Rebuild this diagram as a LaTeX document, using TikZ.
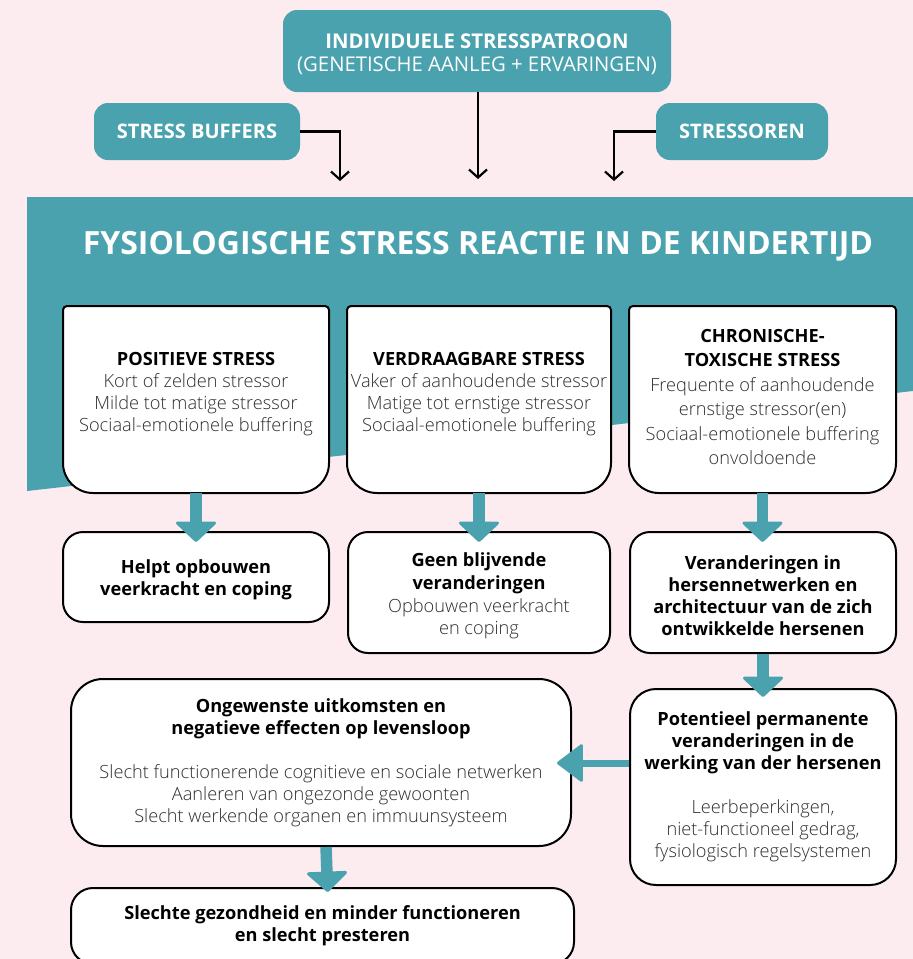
\documentclass[tikz,border=0pt]{standalone}
\usepackage{fontspec}
\setmainfont{Open Sans}
\newfontfamily\lightfont{Open Sans Light}
\usetikzlibrary{arrows.meta,calc}
\definecolor{pinkbg}{HTML}{FCECF0}
\definecolor{tealc}{HTML}{4BA2AF}
\definecolor{bodytext}{HTML}{2E2E2E}
\newcommand\regtext[1]{{\lightfont\color{bodytext}#1}}
\newcommand\hd[1]{{\bfseries #1}}
% box with slightly rounded top corners and wide rounded bottom corners
\newcommand\cupshape[4]{%
  \draw[outline] (#1,#2+4) .. controls (#1,#2+1.8) and (#1+1.8,#2) .. (#1+4,#2)
    -- (#3-4,#2) .. controls (#3-1.8,#2) and (#3,#2+1.8) .. (#3,#2+4)
    -- (#3,#4-30) .. controls (#3,#4-13.4) and (#3-13.4,#4) .. (#3-30,#4)
    -- (#1+30,#4) .. controls (#1+13.4,#4) and (#1,#4-13.4) .. (#1,#4-30) -- cycle;}
\begin{document}
\begin{tikzpicture}[x=1pt,y=-1pt,
  tealbox/.style={fill=tealc, rounded corners=14pt, text=white, align=center, inner sep=0pt},
  outline/.style={draw=black, line width=2pt, fill=white},
  whitebox/.style={outline, rounded corners=#1, align=center, inner sep=0pt, text=black,
    font=\fontsize{18.2}{22}\selectfont},
  whitebox/.default=20pt,
  holder/.style={inner sep=0pt, outer sep=0pt},
  bodyfont/.style={align=center, text=black, font=\fontsize{18.2}{22}\selectfont},
  tealarrow/.style={draw=tealc, line width=11.5pt,
    -{Triangle[width=44pt,length=21pt,line width=3pt,round]}},
  thinarrow/.style={draw=tealc, line width=7pt,
    -{Triangle[width=40pt,length=27pt,line width=3pt,round]}},
  blackarrow/.style={draw=black, line width=2.2pt, -{Straight Barb[length=8pt,width=18pt]}}
]
\useasboundingbox (0,0) rectangle (913,959);
\fill[pinkbg] (0,0) rectangle (913,959);

% banner
\fill[tealc] (27,197) -- (913,197) -- (913,391) -- (27,491) -- cycle;
\node[text=white, font=\bfseries\fontsize{32}{36}\selectfont, anchor=base] (title) at (478,254)
  {FYSIOLOGISCHE STRESS REACTIE IN DE KINDERTIJD};

% top row
\node[tealbox, minimum width=388pt, minimum height=82pt] (ip) at (477,51) {};
\node[text=white, align=center, font=\fontsize{20.3}{23}\selectfont] (iptext) at (477,54.5)
  {\textbf{INDIVIDUELE STRESSPATROON}\\(GENETISCHE AANLEG + ERVARINGEN)};
\node[tealbox, minimum width=206pt, minimum height=57pt, font=\bfseries\fontsize{20}{22}\selectfont] (sb) at (197,131.5) {STRESS BUFFERS};
\node[tealbox, minimum width=172pt, minimum height=57pt, font=\bfseries\fontsize{20}{22}\selectfont] (so) at (742,131.5) {STRESSOREN};

\coordinate (ea) at (340,181);
\coordinate (eb) at (478,179);
\coordinate (ec) at (614,181);
\draw[blackarrow] (sb.east) -| (ea);
\draw[blackarrow] (ip.south -| eb) -- (eb);
\draw[blackarrow] (so.west) -| (ec);

% stress types
\node[holder, minimum width=266pt, minimum height=187pt] (b1) at (196,399.5) {};
\node[holder, minimum width=264pt, minimum height=187pt] (b2) at (479,399.5) {};
\node[holder, minimum width=267pt, minimum height=187pt] (b3) at (762.5,399.5) {};
\cupshape{63}{306}{329}{493}
\cupshape{347}{306}{611}{493}
\cupshape{629}{306}{896}{493}
\node[bodyfont] (t1) at (196,394)
  {\hd{POSITIEVE STRESS}\\\regtext{Kort of zelden stressor}\\\regtext{Milde tot matige stressor}\\\regtext{Sociaal-emotionele buffering}};
\node[bodyfont] (t2) at (479,394.5)
  {\hd{VERDRAAGBARE STRESS}\\\regtext{Vaker of aanhoudende stressor}\\\regtext{Matige tot ernstige stressor}\\\regtext{Sociaal-emotionele buffering}};
\node[bodyfont, font=\fontsize{18.2}{24.4}\selectfont] (t3) at (762.5,397)
  {\hd{CHRONISCHE-}\\\hd{TOXISCHE STRESS}\\\regtext{Frequente of aanhoudende}\\\regtext{ernstige stressor(en)}\\\regtext{Sociaal-emotionele buffering}\\\regtext{onvoldoende}};

% outcomes
\node[whitebox, minimum width=266pt, minimum height=90pt] (b4) at (196,577) {};
\node[bodyfont] (t4) at (196,580)
  {\hd{Helpt opbouwen}\\\hd{veerkracht en coping}};
\node[whitebox, minimum width=262pt, minimum height=121pt] (b5) at (479,592.5) {};
\node[bodyfont, font=\fontsize{18.2}{22.6}\selectfont] (t5) at (479,596)
  {\hd{Geen blijvende}\\\hd{veranderingen}\\\regtext{Opbouwen veerkracht}\\\regtext{en coping}};
\node[whitebox, minimum width=266pt, minimum height=121pt] (b6) at (763,592.5) {};
\node[bodyfont] (t6) at (763,596)
  {\hd{Veranderingen in}\\\hd{hersennetwerken en}\\\hd{architectuur van de zich}\\\hd{ontwikkelde hersenen}};
\node[whitebox=26pt, minimum width=266pt, minimum height=196pt] (b7) at (763,787)
  {\hd{Potentieel permanente}\\\hd{veranderingen in de}\\\hd{werking van der hersenen}\\[22pt]\regtext{Leerbeperkingen,}\\\regtext{niet-functioneel gedrag,}\\\regtext{fysiologisch regelsystemen}};
\node[whitebox=32pt, minimum width=500pt, minimum height=167pt] (b8) at (321,762.5)
  {\hd{Ongewenste uitkomsten en}\\\hd{negatieve effecten op levensloop}\\[22pt]\regtext{Slecht functionerende cognitieve en sociale netwerken}\\\regtext{Aanleren van ongezonde gewoonten}\\\regtext{Slecht werkende organen en immuunsysteem}};
\node[whitebox=22pt, minimum width=503pt, minimum height=76pt] (b9) at (322.5,926)
  {\hd{Slechte gezondheid en minder functioneren}\\\hd{en slecht presteren}};

% connecting arrows
\draw[tealarrow, shorten >=-11pt] (b1.south) -- (b1.south |- b4.north);
\draw[tealarrow, shorten >=-11pt] (b2.south) -- (b2.south |- b5.north);
\draw[tealarrow, shorten >=-11pt] (b3.south) -- (b3.south |- b6.north);
\draw[tealarrow, shorten >=-9pt] (b6.south) -- (b6.south |- b7.north);
\draw[thinarrow, shorten >=-15pt] (b7.west |- 0,763) -- (b8.east |- 0,763);
\draw[tealarrow, shorten >=-5pt] ($(b8.south)+(5,0)$) -- ($(b9.north)+(5,0)$);
\end{tikzpicture}
\end{document}
